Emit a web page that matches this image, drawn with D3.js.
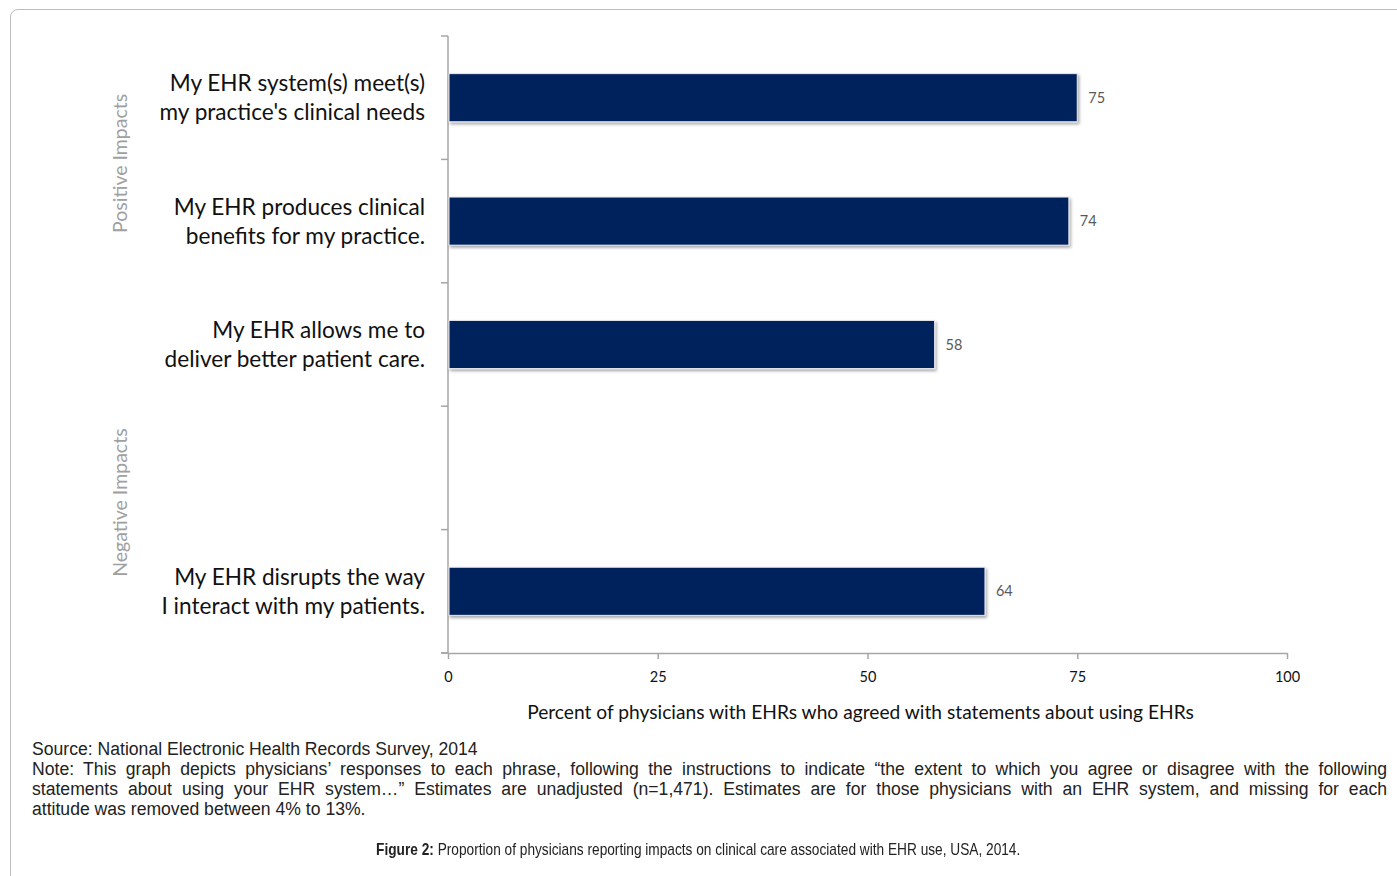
<!DOCTYPE html>
<html>
<head>
<meta charset="utf-8">
<script src="https://cdn.jsdelivr.net/npm/d3@7"></script>
<style>
  html, body { margin: 0; padding: 0; background: #fff; }
  body { width: 1397px; height: 876px; position: relative; overflow: hidden; }
  #frame { position: absolute; left: 10px; top: 9px; width: 1500px; height: 1000px;
           border: 1px solid #bdbdbd; border-radius: 8px; box-sizing: border-box; }
  svg { position: absolute; left: 0; top: 0; }
  #notes { position: absolute; left: 32px; top: 739px; width: 1355px;
           font-family: "Liberation Sans", Arial, sans-serif;
           font-size: 17.6px; line-height: 20px; color: #222; }
  #notes .j { text-align: justify; text-align-last: justify; white-space: nowrap; }
  #caption { position: absolute; left: 0; top: 840px; width: 1397px; text-align: center;
           font-family: "Liberation Sans", Arial, sans-serif; font-size: 17px; color: #222; }
  #caption span.inner { display: inline-block; transform: scaleX(0.805); transform-origin: center; white-space: nowrap; }
</style>
</head>
<body>
<div id="frame"></div>
<svg id="chart" width="1397" height="876"></svg>
<div id="notes"></div>
<div id="caption"></div>
<script>
// ---- data ----
const categories = [
  ["My EHR system(s) meet(s)", "my practice's clinical needs"],
  ["My EHR produces clinical", "benefits for my practice."],
  ["My EHR allows me to", "deliver better patient care."],
  null,
  ["My EHR disrupts the way", "I interact with my patients."]
];
const values = [75, 74, 58, null, 64];
const xTicks = [0, 25, 50, 75, 100];
const groupLabels = ["Positive Impacts", "Negative Impacts"];
const axisTitle = "Percent of physicians with EHRs who agreed with statements about using EHRs";
const sourceText = "Source: National Electronic Health Records Survey, 2014";
const noteLines = [
  "Note: This graph depicts physicians\u2019 responses to each phrase, following the instructions to indicate \u201cthe extent to which you agree or disagree with the following",
  "statements about using your EHR system\u2026\u201d Estimates are unadjusted (n=1,471). Estimates are for those physicians with an EHR system, and missing for each",
  "attitude was removed between 4% to 13%."
];
const captionBold = "Figure 2:";
const captionText = " Proportion of physicians reporting impacts on clinical care associated with EHR use, USA, 2014.";

// ---- layout ----
const plot = { left: 448, right: 1287, top: 36, bottom: 653 };
const svg = d3.select("#chart");

const x = d3.scaleLinear().domain([0, 100]).range([plot.left, plot.right]);
const idx = d3.range(categories.length);
const y = d3.scaleBand().domain(idx).range([plot.top, plot.bottom])
  .paddingInner(0.61).paddingOuter(0.305);
const step = y.step();
const bandTop = i => plot.top + i * step;

// shadow filter
const defs = svg.append("defs");
const f = defs.append("filter").attr("id", "shadow").attr("x", "-5%").attr("y", "-20%")
  .attr("width", "110%").attr("height", "150%");
f.append("feDropShadow").attr("dx", 1.5).attr("dy", 2).attr("stdDeviation", 1.5)
  .attr("flood-color", "#000").attr("flood-opacity", 0.35);

const axisColor = "#a6a6a6";

// y axis line + ticks at band boundaries
svg.append("line").attr("x1", plot.left).attr("x2", plot.left)
  .attr("y1", plot.top).attr("y2", plot.bottom)
  .attr("stroke", axisColor).attr("stroke-width", 1.5);
svg.selectAll(".ytick").data(d3.range(categories.length + 1)).join("line")
  .attr("x1", plot.left - 7).attr("x2", plot.left)
  .attr("y1", i => bandTop(i)).attr("y2", i => bandTop(i))
  .attr("stroke", axisColor).attr("stroke-width", 1.5);

// x axis
const xAxis = svg.append("g").attr("transform", `translate(0,${plot.bottom})`)
  .call(d3.axisBottom(x).tickValues(xTicks).tickSize(6).tickSizeOuter(0).tickPadding(13));
xAxis.select(".domain").attr("stroke", axisColor).attr("stroke-width", 1.5);
xAxis.selectAll(".tick line").attr("stroke", axisColor).attr("stroke-width", 1.5);
xAxis.selectAll(".tick text").attr("fill", "#111").attr("font-family", "Lato, 'Open Sans', sans-serif")
  .attr("font-size", 14.5);
svg.append("line").attr("x1", plot.left - 7).attr("x2", plot.left)
  .attr("y1", plot.bottom).attr("y2", plot.bottom).attr("stroke", axisColor).attr("stroke-width", 1.5);

// bars
const barData = idx.filter(i => values[i] != null);
svg.selectAll(".bar").data(barData).join("rect")
  .attr("x", x(0) + 1).attr("y", i => y(i))
  .attr("width", i => x(values[i]) - x(0) - 1).attr("height", y.bandwidth())
  .attr("fill", "#00205b").attr("stroke", "#e8e8ee").attr("stroke-width", 1)
  .attr("filter", "url(#shadow)");

// value labels
svg.selectAll(".val").data(barData).join("text")
  .attr("x", i => x(values[i]) + 11).attr("y", i => y(i) + y.bandwidth() / 2)
  .attr("dy", "0.35em").attr("fill", "#595959")
  .attr("font-family", "Lato, 'Open Sans', sans-serif").attr("font-size", 14.5)
  .text(i => values[i]);

// category labels
const catG = svg.selectAll(".cat").data(barData).join("text")
  .attr("text-anchor", "end").attr("fill", "#111")
  .attr("font-family", "Lato, 'Open Sans', sans-serif").attr("font-size", 22.6);
catG.each(function(i) {
  const t = d3.select(this);
  const cy = y(i) + y.bandwidth() / 2;
  categories[i].forEach((line, k) => {
    t.append("tspan").attr("x", 425).attr("y", cy + (k - 0.5) * 29).attr("dy", "0.35em").text(line);
  });
});

// group labels
const groupCenters = [
  (y(0) + y(1) + y.bandwidth()) / 2 + 4,
  (y(3) + y(4)) / 2 + y.bandwidth() / 2 - 27
];
svg.selectAll(".grp").data(groupLabels).join("text")
  .attr("transform", (d, g) => `translate(120,${groupCenters[g]}) rotate(-90)`)
  .attr("text-anchor", "middle").attr("dy", "0.35em").attr("fill", "#a0a0a0")
  .attr("font-family", "Lato, 'Open Sans', sans-serif").attr("font-size", 19.5)
  .text(d => d);

// axis title
svg.append("text").attr("x", (plot.left + plot.right) / 2 - 7).attr("y", 712)
  .attr("text-anchor", "middle").attr("dy", "0.35em").attr("fill", "#111")
  .attr("font-family", "Lato, 'Open Sans', sans-serif").attr("font-size", 19.2)
  .text(axisTitle);

// notes
const notes = d3.select("#notes");
notes.append("div").text(sourceText);
noteLines.forEach((l, k) => {
  notes.append("div").attr("class", k < noteLines.length - 1 ? "j" : null).text(l);
});
const cap = d3.select("#caption").append("span").attr("class", "inner");
cap.append("b").text(captionBold);
cap.append("span").text(captionText);
</script>
</body>
</html>
